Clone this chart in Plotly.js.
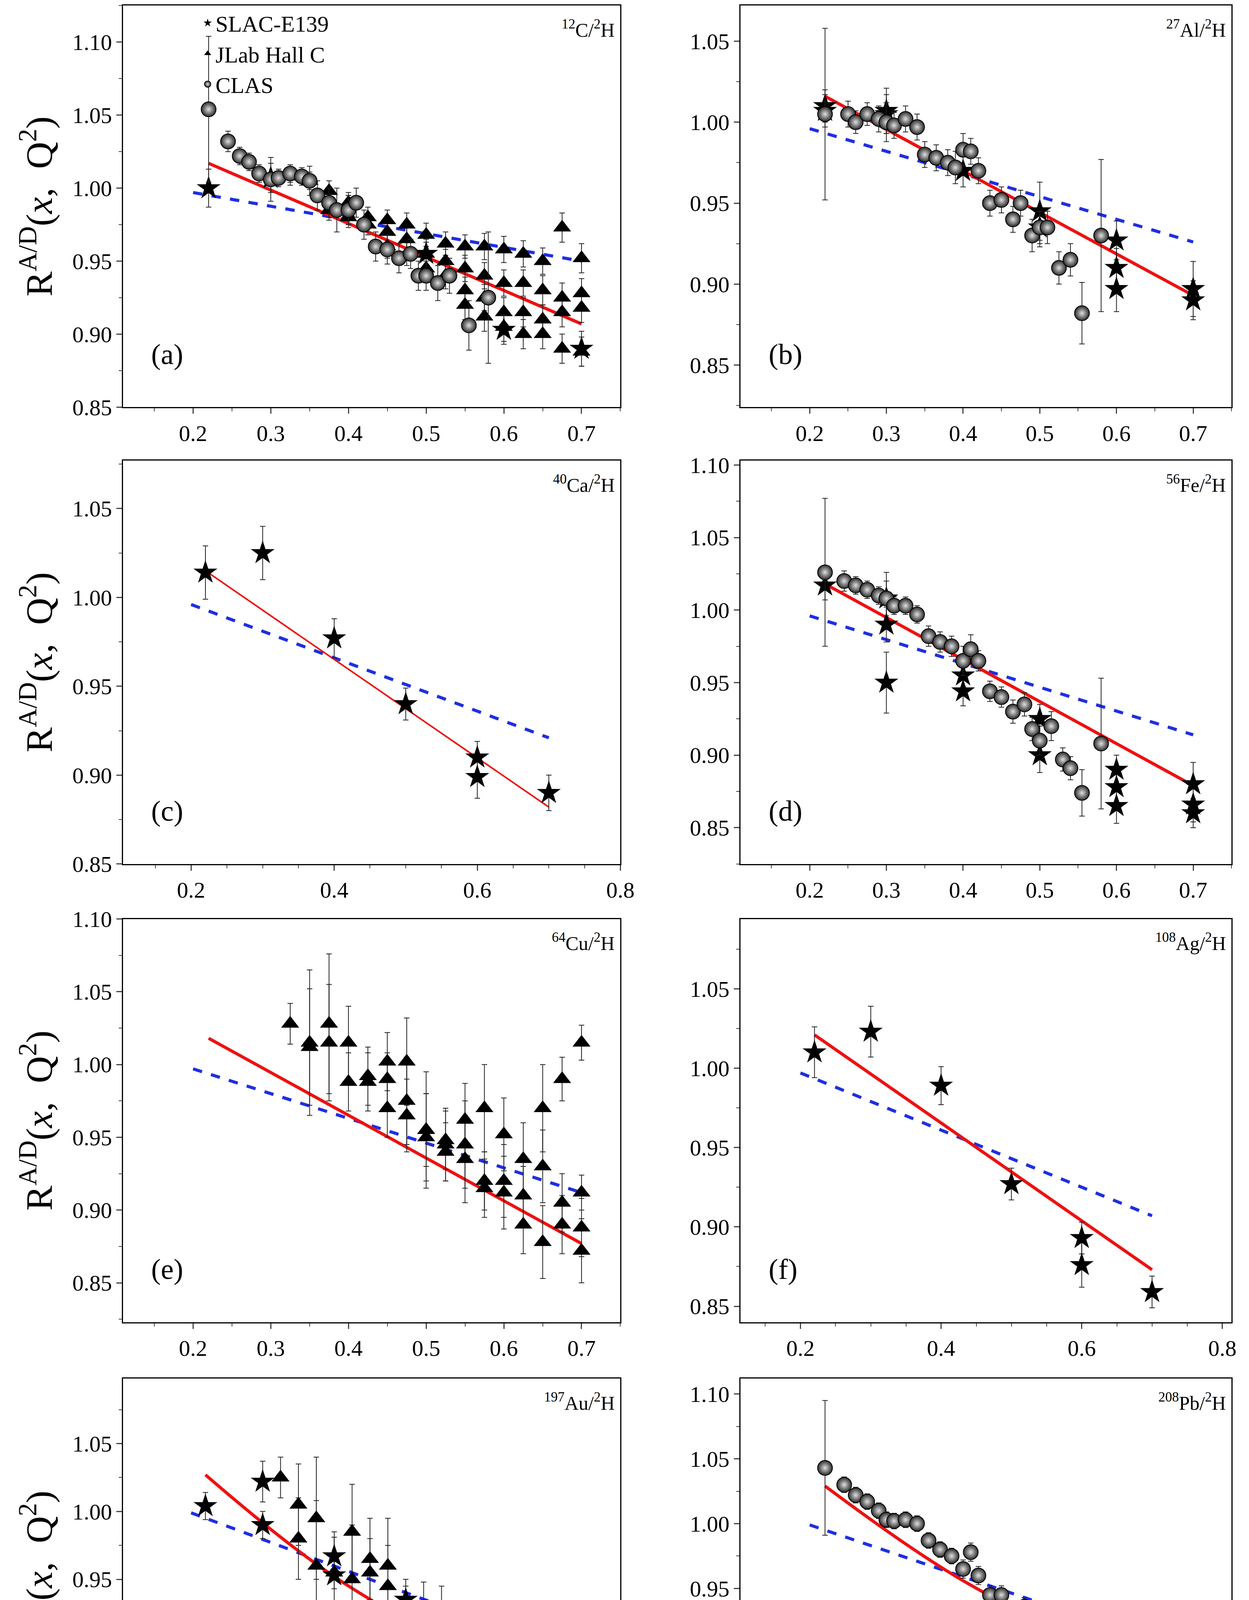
<!DOCTYPE html>
<html><head><meta charset="utf-8">
<script src="https://cdn.plot.ly/plotly-3.0.1.min.js"></script>
<style>body{margin:0;background:#fff}#plot{width:3198px;height:4803px}</style>
</head><body><div id="plot"></div>
<script>
// ---- data ----
var a_slac_x = [0.22,0.3,0.4,0.5,0.6,0.7];
var a_slac_y = [1.000,1.007,0.985,0.955,0.903,0.890];
var a_slac_e = [0.013,0.010,0.010,0.010,0.010,0.012];
var a_jlab_x = [0.325,0.35,0.375,0.4,0.425,0.45,0.475,0.5,0.525,0.55,0.575,0.6,0.625,0.65,0.675,0.7,
                0.375,0.4,0.425,0.45,0.475,0.5,0.525,0.55,0.575,0.6,0.625,0.65,0.675,0.7,
                0.45,0.475,0.5,0.525,0.55,0.575,0.6,0.625,0.65,0.675,0.7,
                0.55,0.575,0.6,0.625,0.65,0.675,0.7];
var a_jlab_y = [1.008,1.005,0.998,0.990,0.980,0.978,0.975,0.968,0.962,0.960,0.960,0.958,0.955,0.950,0.973,0.952,
                0.985,0.980,0.975,0.970,0.965,0.955,0.950,0.945,0.940,0.935,0.935,0.930,0.925,0.928,
                0.960,0.955,0.945,0.940,0.930,0.925,0.915,0.915,0.910,0.915,0.918,
                0.920,0.912,0.905,0.900,0.900,0.890,0.888];
var a_jlab_e = [0.006,0.006,0.007,0.007,0.007,0.007,0.008,0.008,0.008,0.008,0.009,0.009,0.009,0.009,0.010,0.010,
                0.007,0.007,0.007,0.008,0.008,0.008,0.008,0.009,0.009,0.009,0.009,0.010,0.010,0.010,
                0.008,0.008,0.008,0.009,0.009,0.009,0.010,0.010,0.010,0.010,0.010,
                0.010,0.010,0.010,0.010,0.010,0.010,0.010];
var a_clas_x = [0.22,0.245,0.26,0.272,0.285,0.3,0.31,0.325,0.34,0.35,0.36,0.375,0.385,0.4,0.41,0.42,0.435,0.45,0.465,0.48,0.49,0.5,0.515,0.53,0.555,0.58];
var a_clas_y = [1.054,1.032,1.022,1.018,1.010,1.006,1.007,1.010,1.008,1.005,0.995,0.990,0.985,0.985,0.990,0.975,0.960,0.958,0.952,0.955,0.940,0.940,0.935,0.940,0.906,0.925];
var a_clas_e = [0.050,0.007,0.006,0.006,0.006,0.015,0.006,0.006,0.006,0.010,0.010,0.010,0.015,0.010,0.010,0.010,0.010,0.010,0.010,0.010,0.010,0.010,0.012,0.012,0.017,0.045];

var b_slac_x = [0.22,0.22,0.3,0.3,0.4,0.5,0.5,0.6,0.6,0.6,0.7,0.7];
var b_slac_y = [1.010,1.007,1.005,1.007,0.970,0.945,0.935,0.927,0.910,0.897,0.897,0.890];
var b_slac_e = [0.010,0.010,0.012,0.014,0.010,0.018,0.012,0.012,0.012,0.014,0.017,0.012];
var b_clas_x = [0.22,0.25,0.26,0.275,0.29,0.3,0.31,0.325,0.34,0.35,0.365,0.38,0.39,0.4,0.41,0.42,0.435,0.45,0.465,0.475,0.49,0.5,0.51,0.525,0.54,0.555,0.58];
var b_clas_y = [1.005,1.005,1.000,1.005,1.002,1.000,0.998,1.002,0.997,0.980,0.978,0.975,0.972,0.983,0.982,0.970,0.950,0.952,0.940,0.950,0.930,0.935,0.935,0.910,0.915,0.882,0.930];
var b_clas_e = [0.053,0.008,0.007,0.007,0.008,0.012,0.008,0.008,0.008,0.008,0.008,0.008,0.010,0.010,0.008,0.008,0.008,0.008,0.008,0.008,0.010,0.010,0.010,0.010,0.010,0.019,0.047];

var c_slac_x = [0.22,0.3,0.4,0.5,0.6,0.6,0.7];
var c_slac_y = [1.014,1.025,0.977,0.940,0.910,0.899,0.890];
var c_slac_e = [0.015,0.015,0.011,0.009,0.009,0.012,0.010];

var d_slac_x = [0.22,0.3,0.3,0.3,0.4,0.4,0.5,0.5,0.6,0.6,0.6,0.7,0.7,0.7];
var d_slac_y = [1.017,1.008,0.990,0.950,0.955,0.944,0.925,0.900,0.890,0.878,0.865,0.880,0.866,0.860];
var d_slac_e = [0.010,0.018,0.012,0.021,0.010,0.010,0.010,0.012,0.010,0.014,0.012,0.015,0.012,0.010];
var d_clas_x = [0.22,0.245,0.26,0.275,0.29,0.3,0.31,0.325,0.34,0.355,0.37,0.385,0.4,0.41,0.42,0.435,0.45,0.465,0.48,0.49,0.5,0.515,0.53,0.54,0.555,0.58];
var d_clas_y = [1.026,1.020,1.017,1.014,1.010,1.008,1.003,1.003,0.997,0.982,0.978,0.975,0.965,0.973,0.965,0.944,0.940,0.930,0.935,0.918,0.910,0.920,0.897,0.891,0.874,0.908];
var d_clas_e = [0.051,0.007,0.006,0.006,0.006,0.012,0.006,0.006,0.006,0.007,0.007,0.007,0.010,0.010,0.007,0.007,0.007,0.008,0.008,0.008,0.010,0.010,0.008,0.008,0.016,0.045];

var e_jlab_x = [0.325,0.35,0.375,0.4,0.425,0.45,0.475,0.5,0.525,0.55,0.575,0.6,0.625,0.65,0.675,0.7,
                0.35,0.375,0.4,0.425,0.45,0.475,0.5,0.525,0.55,0.575,0.6,0.625,0.65,0.675,0.7,
                0.45,0.475,0.5,0.525,0.55,0.575,0.6,0.625,0.65,0.675,0.7,0.7];
var e_jlab_y = [1.028,1.015,1.028,1.015,0.988,0.990,1.002,0.955,0.948,0.962,0.970,0.952,0.935,0.970,0.990,1.015,
                1.012,1.015,0.988,0.992,1.002,0.975,0.950,0.945,0.945,0.920,0.920,0.910,0.930,0.905,0.912,
                0.970,0.965,0.955,0.940,0.935,0.915,0.912,0.890,0.878,0.890,0.888,0.872];
var e_jlab_e = [0.014,0.050,0.048,0.025,0.020,0.018,0.030,0.040,0.020,0.025,0.030,0.025,0.025,0.030,0.015,0.012,
                0.040,0.040,0.020,0.020,0.020,0.030,0.030,0.025,0.030,0.020,0.025,0.020,0.025,0.020,0.012,
                0.020,0.025,0.025,0.020,0.030,0.020,0.025,0.020,0.025,0.020,0.020,0.022];

var f_slac_x = [0.22,0.3,0.4,0.5,0.6,0.6,0.7];
var f_slac_y = [1.010,1.023,0.989,0.927,0.893,0.876,0.859];
var f_slac_e = [0.016,0.016,0.012,0.010,0.010,0.014,0.010];

var g_slac_x = [0.22,0.3,0.3,0.4,0.4,0.5,0.5,0.6,0.6,0.6,0.7,0.7];
var g_slac_y = [1.004,1.022,0.990,0.967,0.953,0.935,0.876,0.895,0.880,0.855,0.860,0.852];
var g_slac_e = [0.010,0.015,0.010,0.014,0.010,0.010,0.020,0.012,0.012,0.012,0.012,0.012];
var g_jlab_x = [0.325,0.35,0.35,0.375,0.375,0.4,0.425,0.425,0.45,0.45,0.475,0.475,0.5,0.5,0.525,0.525,0.55,0.55,0.575,0.575,0.6,0.6,0.625,0.625,0.65,0.65,0.675,0.7];
var g_jlab_y = [1.025,1.005,0.980,0.995,0.960,0.955,0.985,0.950,0.965,0.955,0.960,0.945,0.925,0.910,0.923,0.910,0.915,0.905,0.905,0.890,0.898,0.875,0.880,0.870,0.890,0.865,0.870,0.855];
var g_jlab_e = [0.015,0.030,0.030,0.045,0.048,0.030,0.035,0.040,0.030,0.025,0.035,0.030,0.025,0.025,0.025,0.025,0.030,0.025,0.025,0.025,0.020,0.020,0.030,0.020,0.035,0.020,0.025,0.035];

var h_clas_x = [0.22,0.245,0.26,0.275,0.29,0.3,0.31,0.325,0.34,0.355,0.37,0.385,0.4,0.41,0.42,0.435,0.45,0.465,0.48,0.49,0.5,0.515,0.53,0.54,0.555,0.58];
var h_clas_y = [1.043,1.030,1.022,1.017,1.010,1.003,1.002,1.003,1.000,0.987,0.980,0.975,0.965,0.978,0.960,0.945,0.945,0.930,0.936,0.925,0.913,0.914,0.897,0.895,0.866,0.868];
var h_clas_e = [0.052,0.006,0.006,0.006,0.006,0.006,0.006,0.006,0.006,0.006,0.006,0.006,0.007,0.007,0.007,0.007,0.007,0.007,0.007,0.007,0.008,0.008,0.008,0.008,0.010,0.040];

// fit lines (red) and model (blue dashed)
var red_x = {a:[0.22,0.7],b:[0.22,0.7],c:[0.22,0.7],d:[0.22,0.7],e:[0.22,0.7],f:[0.22,0.7],g:[0.22,0.4,0.7],h:[0.22,0.4,0.7]};
var red_y = {a:[1.017,0.907],b:[1.016,0.893],c:[1.015,0.882],d:[1.018,0.879],e:[1.018,0.877],f:[1.021,0.873],g:[1.027,0.952,0.862],h:[1.029,0.956,0.868]};
var blue_x = {a:[0.2,0.7],b:[0.2,0.7],c:[0.2,0.7],d:[0.2,0.7],e:[0.2,0.7],f:[0.2,0.7],g:[0.2,0.7],h:[0.2,0.7]};
var blue_y = {a:[0.997,0.950],b:[0.996,0.926],c:[0.996,0.921],d:[0.996,0.914],e:[0.997,0.912],f:[0.997,0.907],g:[0.999,0.901],h:[0.999,0.899]};

var nuclei = {a:'<sup>12</sup>C/<sup>2</sup>H',b:'<sup>27</sup>Al/<sup>2</sup>H',c:'<sup>40</sup>Ca/<sup>2</sup>H',d:'<sup>56</sup>Fe/<sup>2</sup>H',
              e:'<sup>64</sup>Cu/<sup>2</sup>H',f:'<sup>108</sup>Ag/<sup>2</sup>H',g:'<sup>197</sup>Au/<sup>2</sup>H',h:'<sup>208</sup>Pb/<sup>2</sup>H'};

// ---- layout ----
var FONT = 'Liberation Serif, Times New Roman, serif';
var panels = ['a','b','c','d','e','f','g','h'];
var xdom = [[0.0986,0.4967],[0.593,0.986]];
var ydom = [[0.783,0.997],[0.5395,0.7545],[0.2953,0.5102],[0.0497,0.2653]];
var xr = {a:[0.11,0.75],b:[0.11,0.75],c:[0.105,0.8],d:[0.11,0.75],e:[0.11,0.75],f:[0.115,0.813],g:[0.105,0.8],h:[0.11,0.75]};
var yr = {a:[0.85,1.125],b:[0.824,1.072],c:[0.85,1.077],d:[0.825,1.103],e:[0.823,1.10],f:[0.84,1.094],g:[0.80,1.098],h:[0.80,1.112]};
var ytick = {a:[0.85,0.90,0.95,1.00,1.05,1.10],b:[0.85,0.90,0.95,1.00,1.05],c:[0.85,0.90,0.95,1.00,1.05],d:[0.85,0.90,0.95,1.00,1.05,1.10],
             e:[0.85,0.90,0.95,1.00,1.05,1.10],f:[0.85,0.90,0.95,1.00,1.05],g:[0.80,0.85,0.90,0.95,1.00,1.05],h:[0.80,0.85,0.90,0.95,1.00,1.05,1.10]};
var xtick = {a:[0.2,0.3,0.4,0.5,0.6,0.7],b:[0.2,0.3,0.4,0.5,0.6,0.7],c:[0.2,0.4,0.6,0.8],d:[0.2,0.3,0.4,0.5,0.6,0.7],
             e:[0.2,0.3,0.4,0.5,0.6,0.7],f:[0.2,0.4,0.6,0.8],g:[0.2,0.4,0.6,0.8],h:[0.2,0.3,0.4,0.5,0.6,0.7]};

var data = {
  a:{slac:[a_slac_x,a_slac_y,a_slac_e],jlab:[a_jlab_x,a_jlab_y,a_jlab_e],clas:[a_clas_x,a_clas_y,a_clas_e]},
  b:{slac:[b_slac_x,b_slac_y,b_slac_e],clas:[b_clas_x,b_clas_y,b_clas_e]},
  c:{slac:[c_slac_x,c_slac_y,c_slac_e]},
  d:{slac:[d_slac_x,d_slac_y,d_slac_e],clas:[d_clas_x,d_clas_y,d_clas_e]},
  e:{jlab:[e_jlab_x,e_jlab_y,e_jlab_e]},
  f:{slac:[f_slac_x,f_slac_y,f_slac_e]},
  g:{slac:[g_slac_x,g_slac_y,g_slac_e],jlab:[g_jlab_x,g_jlab_y,g_jlab_e]},
  h:{clas:[h_clas_x,h_clas_y,h_clas_e]}
};
var style = {
  slac:{name:'SLAC-E139',marker:{symbol:'star',size:46,color:'#000'}},
  jlab:{name:'JLab Hall C',marker:{symbol:'triangle-up',size:40,color:'#000'}},
  clas:{name:'CLAS',marker:{symbol:'circle',size:38,color:'#2a2a2a',gradient:{type:'radial',color:'#e0e0e0'},line:{color:'#000',width:2}}}
};

var traces = [], layout = {
  width:3198, height:4803, margin:{l:0,r:0,t:0,b:0}, paper_bgcolor:'#fff', plot_bgcolor:'#fff',
  showlegend:true, font:{family:FONT,color:'#000'},
  legend:{x:0.16,y:0.997,xanchor:'left',yanchor:'top',bgcolor:'rgba(0,0,0,0)',font:{size:58,family:FONT},tracegroupgap:0,itemsizing:'trace'},
  annotations:[]
};

panels.forEach(function(p,i){
  var n = i+1, ax = n===1?'':n;
  var col = i%2, row = Math.floor(i/2);
  var xa = 'x'+ax, ya = 'y'+ax;
  traces.push({x:blue_x[p],y:blue_y[p],xaxis:xa,yaxis:ya,mode:'lines',showlegend:false,line:{color:'#1f2fe0',width:8,dash:'dash'}});
  traces.push({x:red_x[p],y:red_y[p],xaxis:xa,yaxis:ya,mode:'lines',showlegend:false,line:{color:'#ee1111',width:p==='c'?4:8,shape:'spline'}});
  ['jlab','slac','clas'].forEach(function(k){
    if(!data[p][k]) return;
    var d = data[p][k];
    traces.push({x:d[0],y:d[1],xaxis:xa,yaxis:ya,mode:'markers',name:style[k].name,legendrank:k==='slac'?1:(k==='jlab'?2:3),
      showlegend:p==='a',marker:style[k].marker,
      error_y:{type:'data',array:d[2],visible:true,color:'#222',thickness:2,width:7}});
  });
  var xaxis = {domain:xdom[col],range:xr[p],anchor:ya,tickvals:xtick[p],ticktext:xtick[p].map(function(v){return v.toFixed(1);}),
    showline:true,mirror:true,linecolor:'#000',linewidth:3,ticks:'outside',ticklen:14,tickwidth:3,
    tickfont:{size:58,family:FONT},showgrid:false,zeroline:false,
    minor:{ticks:'outside',ticklen:8,tickwidth:2,dtick:0.05}};
  if(row===3) xaxis.title = {text:'<i>x</i>',font:{size:100,family:FONT},standoff:30};
  var yaxis = {domain:ydom[row],range:yr[p],anchor:xa,tickvals:ytick[p],ticktext:ytick[p].map(function(v){return v.toFixed(2);}),
    showline:true,mirror:true,linecolor:'#000',linewidth:3,ticks:'outside',ticklen:14,tickwidth:3,
    tickfont:{size:58,family:FONT},showgrid:false,zeroline:false,
    minor:{ticks:'outside',ticklen:8,tickwidth:2,dtick:0.025}};
  if(col===0) yaxis.title = {text:'R<sup>A/D</sup>(<i>x</i>,  Q<sup>2</sup>)',font:{size:96,family:FONT},standoff:20};
  layout['xaxis'+ax] = xaxis; layout['yaxis'+ax] = yaxis;
  layout.annotations.push({xref:xa+' domain',yref:ya+' domain',x:0.055,y:0.09,xanchor:'left',yanchor:'bottom',showarrow:false,
    text:'('+p+')',font:{size:74,family:FONT}});
  layout.annotations.push({xref:xa+' domain',yref:ya+' domain',x:0.99,y:0.975,xanchor:'right',yanchor:'top',showarrow:false,
    text:nuclei[p],font:{size:50,family:FONT}});
});

Plotly.newPlot('plot', traces, layout, {staticPlot:true});
</script></body></html>
